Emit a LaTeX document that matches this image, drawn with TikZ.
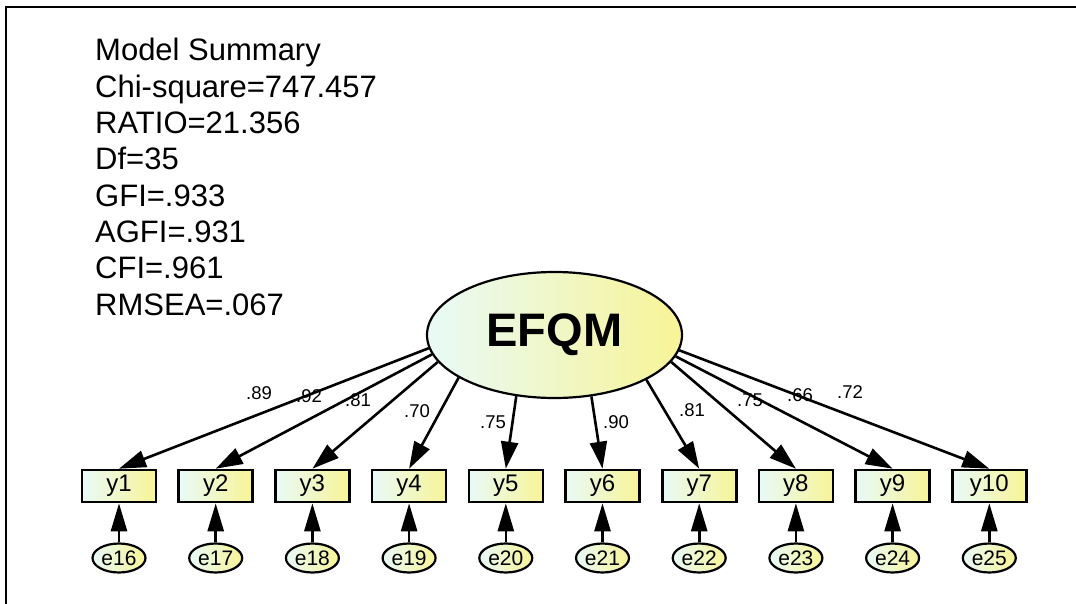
\documentclass[tikz,border=0pt]{standalone}
\usepackage{fontspec}
\setmainfont{Liberation Sans}
\usetikzlibrary{arrows.meta,shapes.geometric}
\definecolor{gleft}{RGB}{232,250,248}
\definecolor{gright}{RGB}{248,244,150}
\tikzset{
  grad/.style={left color=gleft,right color=gright,draw=black},
  latent/.style={grad,ellipse,line width=2.2pt,minimum width=255pt,minimum height=126pt,inner sep=0pt,
    font=\fontsize{47}{50}\selectfont\bfseries},
  obs/.style={grad,rectangle,line width=2.6pt,minimum width=74pt,minimum height=32pt,inner sep=0pt,
    font=\fontsize{24}{26}\selectfont},
  err/.style={grad,ellipse,line width=2.2pt,minimum width=53pt,minimum height=29pt,inner sep=0pt,
    font=\fontsize{21}{23}\selectfont},
  path/.style={line width=2.6pt,-{Triangle[length=27pt,width=17pt]}},
  errpath/.style={line width=2.6pt,-{Triangle[length=28pt,width=16pt]}},
  coef/.style={font=\fontsize{18.5}{20}\selectfont,inner sep=0pt},
  summ/.style={anchor=base west,inner sep=0pt,font=\fontsize{31}{36}\selectfont},
}
\begin{document}
\begin{tikzpicture}[x=1pt,y=-1pt]
\useasboundingbox (0,0) rectangle (1076,604);
\fill[white] (0,0) rectangle (1076,604);
\coordinate (ftl) at (6,7);
\coordinate (fbl) at (6,604);
\coordinate (ftr) at (1076,7);
\draw[line width=2.8pt] (fbl) -- (ftl) -- (ftr);
% summary
\node[summ] (s1) at (95,61) {Model Summary};
\node[summ] (s2) at (95,97.3) {Chi-square=747.457};
\node[summ] (s3) at (95,133.6) {RATIO=21.356};
\node[summ] (s4) at (95,169.9) {Df=35};
\node[summ] (s5) at (95,206.2) {GFI=.933};
\node[summ] (s6) at (95,242.5) {AGFI=.931};
\node[summ] (s7) at (95,278.8) {CFI=.961};
\node[summ] (s8) at (95,315.1) {RMSEA=.067};
% latent
\node[latent] (efqm) at (554.5,335) {EFQM};
% observed and errors
\foreach \i/\e in {1/16,2/17,3/18,4/19,5/20,6/21,7/22,8/23,9/24,10/25}{
  \pgfmathsetmacro{\xx}{119+96.7*(\i-1)}
  \node[obs] (y\i) at (\xx,486) {y\i};
  \node[err] (e\e) at (\xx,558) {e\e};
  \draw[errpath] (e\e.north) -- (y\i.south);
}
% loadings
\foreach \i/\a in {1/186.7,2/189.8,3/193,4/204.6,5/238.8,6/301.8,7/334.8,8/347.1,9/350.8,10/353.3}{
  \draw[path] (efqm.\a) -- (y\i.north);
}
\node[coef] (c1) at (259,393) {.89};
\node[coef] (c2) at (309,396) {.92};
\node[coef] (c3) at (358,400) {.81};
\node[coef] (c4) at (417,411) {.70};
\node[coef] (c5) at (493,422) {.75};
\node[coef] (c6) at (616,422) {.90};
\node[coef] (c7) at (692,410) {.81};
\node[coef] (c8) at (750,400) {.75};
\node[coef] (c9) at (800,395) {.66};
\node[coef] (c10) at (850,392) {.72};
\end{tikzpicture}
\end{document}
